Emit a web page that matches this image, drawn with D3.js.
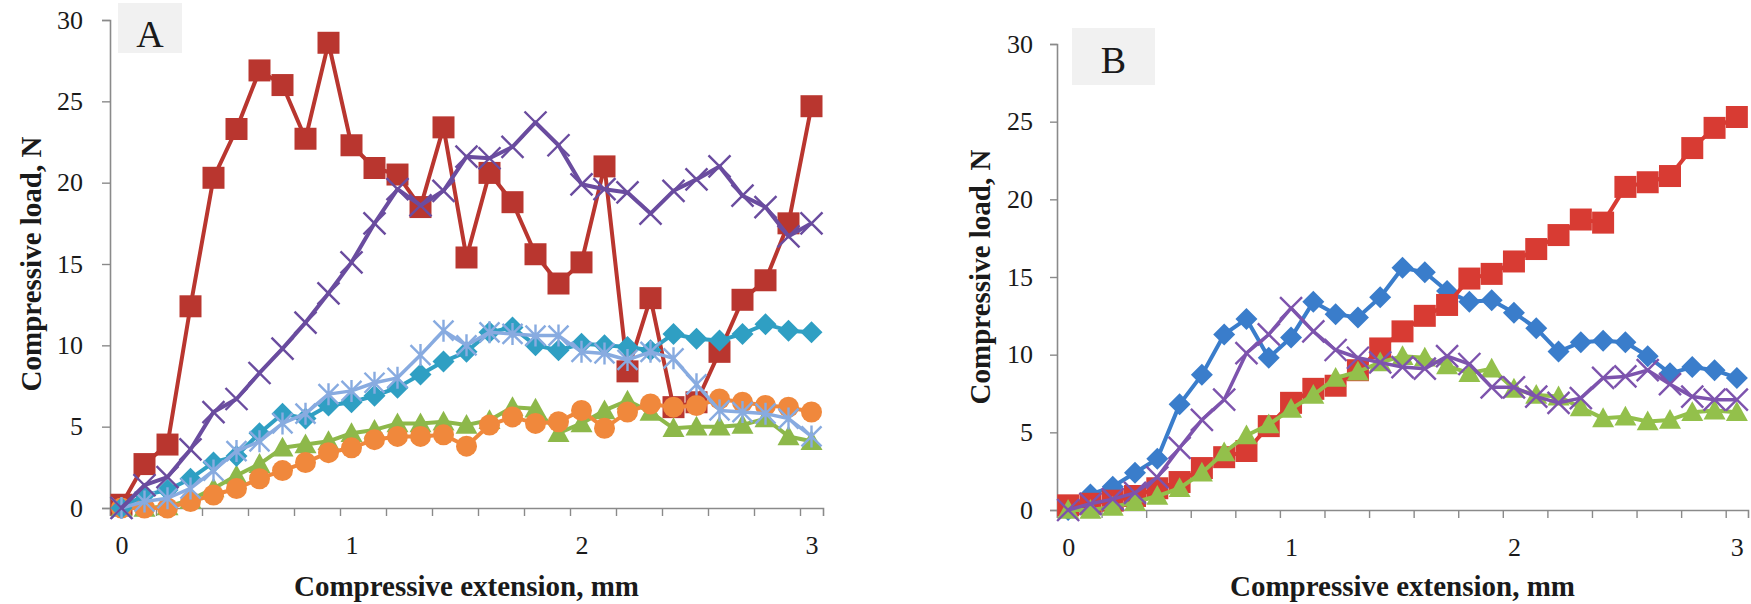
<!DOCTYPE html>
<html><head><meta charset="utf-8">
<script src="https://cdn.jsdelivr.net/npm/d3@7"></script>
<style>
html,body{margin:0;padding:0;background:#fff;}
svg{display:block;}
text{font-family:"Liberation Serif","Times New Roman",serif;fill:#1a1a1a;}
</style></head>
<body>
<svg id="chart" width="1751" height="604"></svg>
<script>
// ---------- data ----------
const categories = ["0","0.1","0.2","0.3","0.4","0.5","0.6","0.7","0.8","0.9","1","1.1","1.2","1.3","1.4","1.5","1.6","1.7","1.8","1.9","2","2.1","2.2","2.3","2.4","2.5","2.6","2.7","2.8","2.9","3"];
const xTickLabels = ["0","1","2","3"];
const yTicks = [0,5,10,15,20,25,30];

// Panel A
const aRed    = [0.2,2.7,3.9,12.4,20.3,23.3,26.9,26.0,22.7,28.6,22.3,20.9,20.5,18.5,23.4,15.4,20.6,18.8,15.6,13.8,15.1,21.0,8.4,12.9,6.2,6.5,9.6,12.8,14.0,17.5,24.7];
const aPurple = [0,1.4,1.9,3.6,5.9,6.7,8.3,9.8,11.4,13.2,15.1,17.5,19.6,18.6,19.5,21.6,21.5,22.2,23.7,22.3,19.9,19.6,19.4,18.1,19.5,20.2,21.0,19.2,18.5,16.7,17.5];
const aTeal   = [0,0.8,1.1,1.8,2.8,3.2,4.6,5.8,5.5,6.3,6.5,6.9,7.4,8.2,9.0,9.6,10.8,11.1,10.0,9.7,10.1,10.0,9.9,9.7,10.7,10.4,10.3,10.7,11.3,10.9,10.8];
const aStar   = [0,0.4,0.6,1.2,2.3,3.5,4.1,5.2,5.8,7.0,7.2,7.7,8.0,9.4,10.9,10.0,10.8,10.7,10.6,10.6,9.6,9.5,9.1,9.6,9.2,7.6,6.0,5.9,5.8,5.5,4.4];
const aGreen  = [0,0,0.1,0.5,1.2,2.0,2.7,3.7,3.9,4.1,4.6,4.8,5.2,5.2,5.3,5.1,5.4,6.2,6.1,4.6,5.2,6.0,6.6,5.9,4.9,5.0,5.0,5.1,5.5,4.4,4.1];
const aOrange = [0,0,0,0.4,0.8,1.2,1.8,2.3,2.8,3.4,3.7,4.2,4.4,4.4,4.5,3.8,5.1,5.6,5.2,5.3,6.0,4.9,5.9,6.4,6.2,6.3,6.7,6.5,6.3,6.2,5.9];

// Panel B
const bBlue   = [0,1.0,1.5,2.4,3.3,6.8,8.7,11.3,12.3,9.8,11.1,13.4,12.6,12.4,13.7,15.6,15.3,14.1,13.4,13.5,12.7,11.7,10.2,10.8,10.9,10.8,9.9,8.8,9.2,9.0,8.5];
const bRed    = [0.3,0.4,0.6,0.9,1.4,1.8,2.7,3.4,3.8,5.4,6.9,7.8,8.0,9.0,10.4,11.5,12.5,13.2,14.9,15.2,16.0,16.8,17.7,18.7,18.5,20.8,21.1,21.5,23.3,24.6,25.3];
const bGreen  = [0,0,0.2,0.5,0.9,1.4,2.4,3.7,4.8,5.5,6.5,7.4,8.5,8.9,9.5,9.9,9.8,9.3,8.8,9.1,7.8,7.4,7.3,6.6,5.9,6.0,5.7,5.8,6.3,6.4,6.3];
const bPurple = [0,0.4,0.7,1.1,2.1,4.0,5.8,7.1,10.1,11.3,13.0,11.5,10.3,9.8,9.5,9.2,9.1,9.9,9.4,7.9,7.9,7.3,6.9,7.2,8.5,8.6,9.0,8.1,7.3,7.1,7.1];

const xTitle = "Compressive extension, mm";
const yTitle = "Compressive load, N";

// ---------- drawing ----------
const svg = d3.select("#chart");

const markerPaths = {
  square: r => `M${-r},${-r}H${r}V${r}H${-r}Z`,
  diamond: r => `M0,${-r}L${r},0L0,${r}L${-r},0Z`,
  triangle: r => `M0,${-r}L${r},${r*0.8}L${-r},${r*0.8}Z`,
  circle: r => d3.symbol(d3.symbolCircle, Math.PI*r*r)(),
  x: r => `M${-r},${-r}L${r},${r}M${-r},${r}L${r},${-r}`,
  star: r => `M${-r},${-r}L${r},${r}M${-r},${r}L${r},${-r}M0,${-r*1.1}V${r*1.1}`
};

function panel(cfg){
  const x = d3.scalePoint().domain(categories).range([cfg.x0, cfg.x1]).padding(0.5);
  const y = d3.scaleLinear().domain([0,30]).range([cfg.yBottom, cfg.yTop]);
  const edge = d3.scaleLinear().domain([0, categories.length]).range([cfg.x0, cfg.x1]);
  const g = svg.append("g");

  // label box
  g.append("rect").attr("x",cfg.box[0]).attr("y",cfg.box[1]).attr("width",cfg.box[2]).attr("height",cfg.box[3]).attr("fill","#f1f1f1");
  g.append("text").attr("x",cfg.box[0]+cfg.box[2]/2).attr("y",cfg.labelY).attr("text-anchor","middle")
    .style("font-size","38px").text(cfg.label);

  // y axis
  const ya = g.append("g").attr("transform",`translate(${cfg.x0},0)`)
    .call(d3.axisLeft(y).tickValues(yTicks).tickSize(cfg.yTickSize).tickPadding(cfg.yTickPad).tickFormat(d3.format("d")));
  ya.select(".domain").attr("stroke","#8a8a8a").attr("stroke-width",1.6);
  ya.selectAll(".tick line").attr("stroke","#8a8a8a").attr("stroke-width",1.4);
  ya.selectAll("text").style("font-size","26px").attr("fill","#1a1a1a").style("font-family","'Liberation Serif',serif");

  // x axis: boundary tick marks
  const xb = g.append("g").attr("transform",`translate(0,${cfg.yBottom})`)
    .call(d3.axisBottom(edge).tickValues(d3.range(0, categories.length, 2)).tickSize(8).tickFormat(""));
  xb.select(".domain").attr("stroke","#8a8a8a").attr("stroke-width",1.6);
  xb.selectAll(".tick line").attr("stroke","#8a8a8a").attr("stroke-width",1.4);
  // x axis labels at categories
  const xl = g.append("g").attr("transform",`translate(0,${cfg.yBottom})`)
    .call(d3.axisBottom(x).tickValues(xTickLabels).tickSize(0).tickPadding(28));
  xl.select(".domain").remove();
  xl.selectAll("text").style("font-size","26px").attr("fill","#1a1a1a").style("font-family","'Liberation Serif',serif");

  // titles
  g.append("text").attr("x",(cfg.x0+cfg.x1)/2).attr("y",596).attr("text-anchor","middle")
    .style("font-size","29px").style("font-weight","bold").text(xTitle);
  g.append("text").attr("transform",`translate(${cfg.yTitleX},${(cfg.yTop+cfg.yBottom)/2}) rotate(-90)`)
    .attr("text-anchor","middle").attr("dy","0.35em")
    .style("font-size","29px").style("font-weight","bold").text(yTitle);

  const line = d3.line().x((d,i)=>x(categories[i])).y(d=>y(d));
  cfg.series.forEach(s=>{
    const sg = g.append("g");
    sg.append("path").datum(s.values).attr("d",line).attr("fill","none")
      .attr("stroke",s.color).attr("stroke-width",s.lw||4).attr("stroke-linejoin","round");
    const isStroke = s.marker==="x" || s.marker==="star";
    sg.selectAll("path.m").data(s.values).join("path").attr("class","m")
      .attr("transform",(d,i)=>`translate(${x(categories[i])},${y(d)})`)
      .attr("d",markerPaths[s.marker](s.r))
      .attr("fill",isStroke?"none":s.color)
      .attr("stroke",isStroke?s.color:"none")
      .attr("stroke-width",isStroke?2.4:0);
  });
}

panel({
  x0:110, x1:823, yTop:20, yBottom:508,
  yTickSize:8, yTickPad:19, yTitleX:31,
  box:[118,3,64,50], label:"A", labelY:47,
  series:[
    {values:aRed, color:"#b9362f", marker:"square", r:11},
    {values:aGreen, color:"#8db84a", marker:"triangle", r:11},
    {values:aOrange, color:"#f0883c", marker:"circle", r:10.5},
    {values:aTeal, color:"#2f9fc3", marker:"diamond", r:11},
    {values:aStar, color:"#88abe0", marker:"star", r:10, lw:3.5},
    {values:aPurple, color:"#6a4c9f", marker:"x", r:11, lw:4}
  ]
});

panel({
  x0:1057, x1:1748, yTop:44, yBottom:510,
  yTickSize:7, yTickPad:17, yTitleX:980,
  box:[1072,28,83,57], label:"B", labelY:73,
  series:[
    {values:bBlue, color:"#3a7dcb", marker:"diamond", r:11},
    {values:bRed, color:"#d83b33", marker:"square", r:11},
    {values:bGreen, color:"#93c04b", marker:"triangle", r:11},
    {values:bPurple, color:"#7d53ad", marker:"x", r:11, lw:3.5}
  ]
});
</script>
</body></html>
